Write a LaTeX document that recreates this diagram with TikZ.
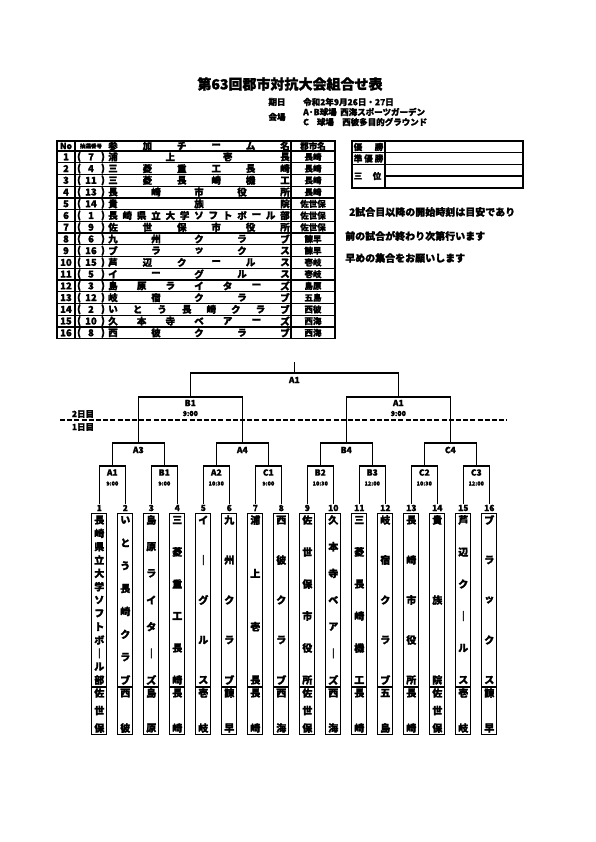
\documentclass[tikz,border=0pt]{standalone}
\usepackage{fontspec}
\setmainfont{Noto Sans CJK JP}[BoldFeatures={FakeBold=1.5}]
\usetikzlibrary{calc}
\newcommand\hspread[6][tx]{%
  \foreach \ch [count=\k] in #6 {\xdef\nn{\k}}%
  \foreach \ch [count=\k] in #6 {\node[#1] (#2-\k) at ({#3+(\k-1)*(#4-#3)/(\nn-1)},{#5}) {\ch};}%
}
\newcommand\vspread[6][tx]{%
  \foreach \ch [count=\k] in #6 {\xdef\nn{\k}}%
  \foreach \ch [count=\k] in #6 {\node[#1] (#2-\k) at ({#3},{#4+(\k-1)*(#5-#4)/(\nn-1)}) {\ch};}%
}
\begin{document}
\begin{tikzpicture}[x=1pt,y=-1pt,
  tx/.style={inner sep=0pt, font=\bfseries\fontsize{9.5}{9.5}\selectfont},
  bx/.style={inner sep=0pt, font=\bfseries\fontsize{10}{10}\selectfont},
  sm/.style={inner sep=0pt, font=\bfseries\fontsize{8.5}{8.5}\selectfont},
  tiny/.style={inner sep=0pt, font=\bfseries\fontsize{5.5}{5.5}\selectfont},
  tl/.style={line width=1.3pt},
  br/.style={line width=1.2pt},
  box/.style={draw, line width=1.3pt, minimum width=15pt, minimum height=221pt, inner sep=0pt, anchor=north}]
\useasboundingbox[fill=white] (0,0) rectangle (595,842);

% title
\node[inner sep=0pt, font=\bfseries\fontsize{14}{14}\selectfont] (title) at (290,84) {第63回郡市対抗大会組合せ表};
\node[sm] (kijitsu) at (277,102) {期日};
\node[sm, anchor=west] (date) at (303,102) {令和2年9月26日・27日};
\node[sm] (kaijo) at (277,117) {会場};
\node[sm, anchor=west] (abj) at (303,112) {A·B球場};
\node[sm, anchor=west] (abp) at (340,112) {西海スポーツガーデン};
\node[sm, anchor=west] (cj) at (303,122) {C\hspace{8pt}球場};
\node[sm, anchor=west] (cp) at (342,122) {西彼多目的グラウンド};

% left table
\draw[tl] (57,141) rectangle (335,338.7);
\foreach \r in {0,...,15} \draw[tl] (57,{151+\r*11.73}) -- (335,{151+\r*11.73});
\draw[tl] (75,141) -- (75,338.7);
\draw[tl] (291,141) -- (291,338.7);
\node[sm] (hno) at (66,146) {No};
\node[tiny] (hlot) at (91,146) {抽選番号};
\hspread{hteam}{113}{285}{146}{{参,加,チ,ー,ム,名}}
\node[sm] (hgun) at (313,146) {郡市名};
\foreach \no/\lot/\team/\gun in {
  1/7/{浦,上,壱,長}/長崎,
  2/4/{三,菱,重,工,長,崎}/長崎,
  3/11/{三,菱,長,崎,機,工}/長崎,
  4/13/{長,崎,市,役,所}/長崎,
  5/14/{貴,族,院}/佐世保,
  6/1/{長,崎,県,立,大,学,ソ,フ,ト,ボ,ー,ル,部}/佐世保,
  7/9/{佐,世,保,市,役,所}/佐世保,
  8/6/{九,州,ク,ラ,ブ}/諫早,
  9/16/{ブ,ラ,ッ,ク,ス}/諫早,
  10/15/{芦,辺,ク,ー,ル,ス}/壱岐,
  11/5/{イ,ー,グ,ル,ス}/壱岐,
  12/3/{島,原,ラ,イ,タ,ー,ズ}/島原,
  13/12/{岐,宿,ク,ラ,ブ}/五島,
  14/2/{い,と,う,長,崎,ク,ラ,ブ}/西彼,
  15/10/{久,本,寺,ベ,ア,ー,ズ}/西海,
  16/8/{西,彼,ク,ラ,ブ}/西海}{
  \pgfmathsetmacro\yy{151+(\no-0.5)*11.73}
  \node[tx] (no\no) at (66,\yy) {\no};
  \node[tx] (lp\no) at (79,\yy) {(};
  \node[tx] (lot\no) at (91,\yy) {\lot};
  \node[tx] (rp\no) at (103,\yy) {)};
  \hspread{tm\no}{113}{285}{\yy}{\team}
  \node[sm] (gun\no) at (313,\yy) {\gun};
}

% right table
\draw[tl] (352,141) rectangle (523,187.9);
\draw[tl] (352,152.7) -- (523,152.7);
\draw[tl] (352,164.4) -- (523,164.4);
\draw[tl] (385,176.1) -- (523,176.1);
\draw[tl] (385,141) -- (385,187.9);
\hspread[sm]{yu}{358}{379}{147}{{優,勝}}
\hspread[sm]{jyu}{358}{379}{158.5}{{準,優,勝}}
\hspread[sm]{san}{358}{377}{176}{{三,位}}

% notes
\node[inner sep=0pt, anchor=west, font=\bfseries\fontsize{10}{10}\selectfont] (note1) at (349,212) {2試合目以降の開始時刻は目安であり};
\node[inner sep=0pt, anchor=west, font=\bfseries\fontsize{10}{10}\selectfont] (note2) at (345,236) {前の試合が終わり次第行います};
\node[inner sep=0pt, anchor=west, font=\bfseries\fontsize{10}{10}\selectfont] (note3) at (345,258) {早めの集合をお願いします};

% day separator
\draw[line width=1.2pt, dash pattern=on 5pt off 2.2pt] (60,420) -- (507,420);
\node[sm] (d2) at (83,414) {2日目};
\node[sm] (d1) at (83,427) {1日目};

% team numbers and boxes
\foreach \i/\nm/\gn in {
  1/{長,崎,県,立,大,学,ソ,フ,ト,ボ,｜,ル,部}/{佐,世,保},
  2/{い,と,う,長,崎,ク,ラ,ブ}/{西,彼},
  3/{島,原,ラ,イ,タ,｜,ズ}/{島,原},
  4/{三,菱,重,工,長,崎}/{長,崎},
  5/{イ,｜,グ,ル,ス}/{壱,岐},
  6/{九,州,ク,ラ,ブ}/{諫,早},
  7/{浦,上,壱,長}/{長,崎},
  8/{西,彼,ク,ラ,ブ}/{西,海},
  9/{佐,世,保,市,役,所}/{佐,世,保},
  10/{久,本,寺,ベ,ア,｜,ズ}/{西,海},
  11/{三,菱,長,崎,機,工}/{長,崎},
  12/{岐,宿,ク,ラ,ブ}/{五,島},
  13/{長,崎,市,役,所}/{長,崎},
  14/{貴,族,院}/{佐,世,保},
  15/{芦,辺,ク,｜,ル,ス}/{壱,岐},
  16/{ブ,ラ,ッ,ク,ス}/{諫,早}}{
  \pgfmathsetmacro\xx{99.3+26*(\i-1)}
  \node[sm] (num\i) at (\xx,508) {\i};
  \node[box] (box\i) at (\xx,513) {};
  \draw[line width=1.3pt] (box\i.west |- 0,687) -- (box\i.east |- 0,687);
  \vspread[bx]{bn\i}{\xx}{520}{680}{\nm}
  \vspread[bx]{bg\i}{\xx}{693}{728}{\gn}
}

% round 1
\foreach \j/\a/\b/\lab/\tm in {1/1/2/A1/9:00, 2/3/4/B1/9:00, 3/5/6/A2/10:30, 4/7/8/C1/9:00,
  5/9/10/B2/10:30, 6/11/12/B3/12:00, 7/13/14/C2/10:30, 8/15/16/C3/12:00}{
  \pgfmathsetmacro\xx{112.3+52*(\j-1)}
  \coordinate (m\j) at (\xx,466);
  \draw[br] ([yshift=1pt]num\a.north) |- (m\j) -| ([yshift=1pt]num\b.north);
  \node[sm] (ml\j) at (\xx,472.5) {\lab};
  \node[tiny] (mt\j) at (\xx,483.5) {\tm};
}
% round 2
\foreach \k/\a/\b/\lab in {1/1/2/A3, 2/3/4/A4, 3/5/6/B4, 4/7/8/C4}{
  \pgfmathsetmacro\xx{138.3+104*(\k-1)}
  \coordinate (q\k) at (\xx,443);
  \draw[br] (m\a) |- (q\k) -| (m\b);
  \node[sm] (ql\k) at (\xx,450) {\lab};
}
% semifinals
\coordinate (s1) at (190.3,397);
\coordinate (s2) at (398.3,397);
\draw[br] (q1) |- (s1) -| (q2);
\draw[br] (q3) |- (s2) -| (q4);
\node[sm] (sl1) at (190.3,403) {B1};
\node[inner sep=0pt, font=\bfseries\fontsize{7}{7}\selectfont] (st1) at (190.3,413.5) {9:00};
\node[sm] (sl2) at (398.3,403) {A1};
\node[inner sep=0pt, font=\bfseries\fontsize{7}{7}\selectfont] (st2) at (398.3,413.5) {9:00};
% final
\coordinate (f) at (294.3,373);
\coordinate (ftop) at (294.3,362);
\draw[br] (s1) |- (f) -| (s2);
\draw[br] (f) -- (ftop);
\node[sm] (fl) at (294.3,380) {A1};
\end{tikzpicture}
\end{document}
